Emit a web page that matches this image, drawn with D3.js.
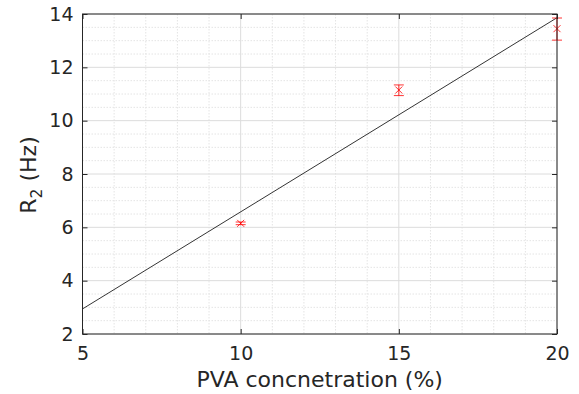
<!DOCTYPE html>
<html>
<head>
<meta charset="utf-8">
<script src="https://cdn.jsdelivr.net/npm/d3@7"></script>
<style>
  body { margin: 0; background: #fff; }
  svg text { font-family: "DejaVu Sans", sans-serif; fill: #262626; }
</style>
</head>
<body>
<svg id="chart" width="579" height="394"></svg>
<script>
// measured points (PVA %, R2 in Hz) with error bar limits
const pva = [10, 15, 20];
const r2 = [6.15, 11.15, 13.45];
const r2Low = [6.10, 10.94, 13.02];
const r2High = [6.20, 11.34, 13.85];

// linear fit, drawn between the two ends of the x range
const fitX = [5, 20];
const fitY = [2.94, 13.86];

const xTicks = [5, 10, 15, 20];
const yTicks = [2, 4, 6, 8, 10, 12, 14];

const svg = d3.select("#chart");
const plotL = 82.5, plotR = 557, plotT = 14, plotB = 334;

const x = d3.scaleLinear().domain([5, 20]).range([plotL, plotR]);
const y = d3.scaleLinear().domain([2, 14]).range([plotB, plotT]);

// grid: minor every 1 on x, every 0.5 on y
const g = svg.append("g");
d3.range(5, 20.01, 1).forEach(v => {
  g.append("line")
    .attr("x1", x(v)).attr("x2", x(v)).attr("y1", plotT).attr("y2", plotB)
    .attr("stroke", xTicks.includes(v) ? "#dcdcdc" : "#e4e4e4")
    .attr("stroke-dasharray", xTicks.includes(v) ? null : "1.5,1.5");
});
d3.range(2, 14.01, 0.5).forEach(v => {
  g.append("line")
    .attr("x1", plotL).attr("x2", plotR).attr("y1", y(v)).attr("y2", y(v))
    .attr("stroke", yTicks.includes(v) ? "#dcdcdc" : "#e4e4e4")
    .attr("stroke-dasharray", yTicks.includes(v) ? null : "1.5,1.5");
});

// fit line
svg.append("path")
  .datum(fitX.map((d, i) => [d, fitY[i]]))
  .attr("d", d3.line().x(d => x(d[0])).y(d => y(d[1])))
  .attr("stroke", "#000").attr("stroke-width", 0.8).attr("fill", "none");

// error bars + markers
const pts = pva.map((d, i) => ({ x: d, y: r2[i], lo: r2Low[i], hi: r2High[i] }));
const eb = svg.append("g").attr("stroke", "#ff0000").attr("stroke-width", 0.8).attr("fill", "none");
pts.forEach(p => {
  const cx = x(p.x);
  eb.append("line").attr("x1", cx).attr("x2", cx).attr("y1", y(p.lo)).attr("y2", y(p.hi));
  eb.append("line").attr("x1", cx - 5).attr("x2", cx + 5).attr("y1", y(p.lo)).attr("y2", y(p.lo));
  eb.append("line").attr("x1", cx - 5).attr("x2", cx + 5).attr("y1", y(p.hi)).attr("y2", y(p.hi));
  const s = 3.5, cy = y(p.y);
  eb.append("path").attr("d", `M${cx - s},${cy - s}L${cx + s},${cy + s}M${cx - s},${cy + s}L${cx + s},${cy - s}`);
});

// axes box with inward ticks on all sides
const ax = "#262626";
svg.append("rect")
  .attr("x", plotL).attr("y", plotT).attr("width", plotR - plotL).attr("height", plotB - plotT)
  .attr("fill", "none").attr("stroke", ax).attr("stroke-width", 1);

const bx = svg.append("g").attr("transform", `translate(0,${plotB})`)
  .call(d3.axisBottom(x).tickValues(xTicks).tickSizeInner(-5).tickSizeOuter(0).tickPadding(13));
const tx = svg.append("g").attr("transform", `translate(0,${plotT})`)
  .call(d3.axisTop(x).tickValues(xTicks).tickSizeInner(-5).tickSizeOuter(0).tickFormat(""));
const ly = svg.append("g").attr("transform", `translate(${plotL},0)`)
  .call(d3.axisLeft(y).tickValues(yTicks).tickSizeInner(-5).tickSizeOuter(0).tickPadding(9));
const ry = svg.append("g").attr("transform", `translate(${plotR},0)`)
  .call(d3.axisRight(y).tickValues(yTicks).tickSizeInner(-5).tickSizeOuter(0).tickFormat(""));

[bx, tx, ly, ry].forEach(a => {
  a.select(".domain").remove();
  a.selectAll("line").attr("stroke", ax);
  a.selectAll("text").attr("font-size", 19).attr("fill", ax)
    .style("font-family", "'DejaVu Sans', sans-serif");
});

// labels
svg.append("text")
  .attr("x", (plotL + plotR) / 2).attr("y", 387)
  .attr("text-anchor", "middle").attr("font-size", 22)
  .text("PVA concnetration (%)");

const yl = svg.append("text")
  .attr("transform", `translate(36,175) rotate(-90)`)
  .attr("text-anchor", "middle").attr("font-size", 22);
yl.append("tspan").text("R");
yl.append("tspan").attr("font-size", 15.5).attr("dy", 6).text("2");
yl.append("tspan").attr("dy", -6).text(" (Hz)");
</script>
</body>
</html>
